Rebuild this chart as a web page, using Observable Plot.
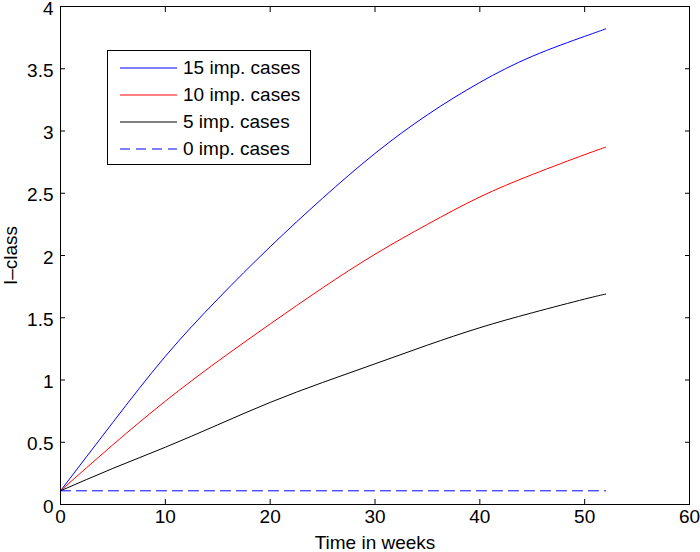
<!DOCTYPE html>
<html>
<head>
<meta charset="utf-8">
<script src="https://cdn.jsdelivr.net/npm/d3@7"></script>
<script src="https://cdn.jsdelivr.net/npm/@observablehq/plot@0.6"></script>
<style>
  body { margin: 0; background: #fff; }
  #wrap { position: relative; width: 700px; height: 552px; font-family: "Liberation Sans", Arial, sans-serif; }
  #legend { position: absolute; left: 107px; top: 50px; width: 204px; height: 115px; border: 1px solid #000; background: #fff; box-sizing: border-box; }
  .row { position: absolute; left: 0; height: 20px; display: flex; align-items: center; font-size: 19px; color: #000; }
  .row svg { margin-left: 12px; margin-right: 6px; }
</style>
</head>
<body>
<div id="wrap"></div>
<script>
// ---- data ----
const weeks = [0, 5, 10, 15, 20, 25, 30, 35, 40, 45, 50, 52];
const imp15 = [0.11, 0.66, 1.19, 1.65, 2.07, 2.46, 2.82, 3.13, 3.39, 3.60, 3.76, 3.82];
const imp10 = [0.11, 0.48, 0.83, 1.15, 1.45, 1.74, 2.01, 2.25, 2.47, 2.65, 2.81, 2.87];
const imp5  = [0.11, 0.29, 0.46, 0.64, 0.82, 0.98, 1.13, 1.28, 1.42, 1.54, 1.65, 1.69];
const imp0Weeks = [0, 52];
const imp0  = [0.11, 0.11];
const seriesNames = ["15 imp. cases", "10 imp. cases", "5 imp. cases", "0 imp. cases"];
const seriesColors = ["#0000ff", "#ff0000", "#000000", "#0000ff"];
const seriesDash = [null, null, null, "10,6"];
const xTicks = [0, 10, 20, 30, 40, 50, 60];
const yTicks = [0, 0.5, 1, 1.5, 2, 2.5, 3, 3.5, 4];

const toRows = (xs, ys) => xs.map((x, i) => ({x, y: ys[i]}));
const lines = [
  toRows(weeks, imp15),
  toRows(weeks, imp10),
  toRows(weeks, imp5),
  toRows(imp0Weeks, imp0)
];

const chart = Plot.plot({
  width: 700,
  height: 552,
  marginLeft: 60,
  marginRight: 11,
  marginTop: 6,
  marginBottom: 48,
  style: {fontFamily: "'Liberation Sans', Arial, sans-serif", fontSize: "19px", color: "#000", background: "#fff"},
  x: {domain: [0, 60]},
  y: {domain: [0, 4]},
  marks: [
    ...lines.map((d, i) => Plot.line(d, {
      x: "x", y: "y", stroke: seriesColors[i], strokeWidth: 1,
      strokeDasharray: seriesDash[i] || undefined, curve: "natural"
    })),
    Plot.axisX({anchor: "bottom", ticks: xTicks, tickSize: -5, tickPadding: 10, tickFormat: d => String(d),
      label: "Time in weeks", labelAnchor: "center", labelArrow: "none", labelOffset: 44}),
    Plot.axisX({anchor: "top", ticks: xTicks, tickSize: -5, tickFormat: () => "", label: null}),
    Plot.axisY({anchor: "left", ticks: yTicks, tickSize: 0, tickPadding: 7, tickFormat: d => String(d),
      dy: 2, label: "I–class", labelAnchor: "center", labelArrow: "none", labelOffset: 57}),
    Plot.axisY({anchor: "left", ticks: yTicks, tickSize: -5, tickFormat: () => "", label: null}),
    Plot.axisY({anchor: "right", ticks: yTicks, tickSize: -5, tickFormat: () => "", label: null}),
    Plot.frame({stroke: "#000", strokeWidth: 1})
  ]
});

const wrap = document.getElementById("wrap");
wrap.appendChild(chart);

// legend
const legend = document.createElement("div");
legend.id = "legend";
seriesNames.forEach((name, i) => {
  const row = document.createElement("div");
  row.className = "row";
  row.style.top = (7 + i * 27) + "px";
  const dash = seriesDash[i] ? `stroke-dasharray="10,6"` : "";
  row.innerHTML = `<svg width="57" height="4"><line x1="0" y1="2" x2="57" y2="2" stroke="${seriesColors[i]}" stroke-width="1" ${dash}/></svg><span>${name}</span>`;
  legend.appendChild(row);
});
wrap.appendChild(legend);
</script>
</body>
</html>
